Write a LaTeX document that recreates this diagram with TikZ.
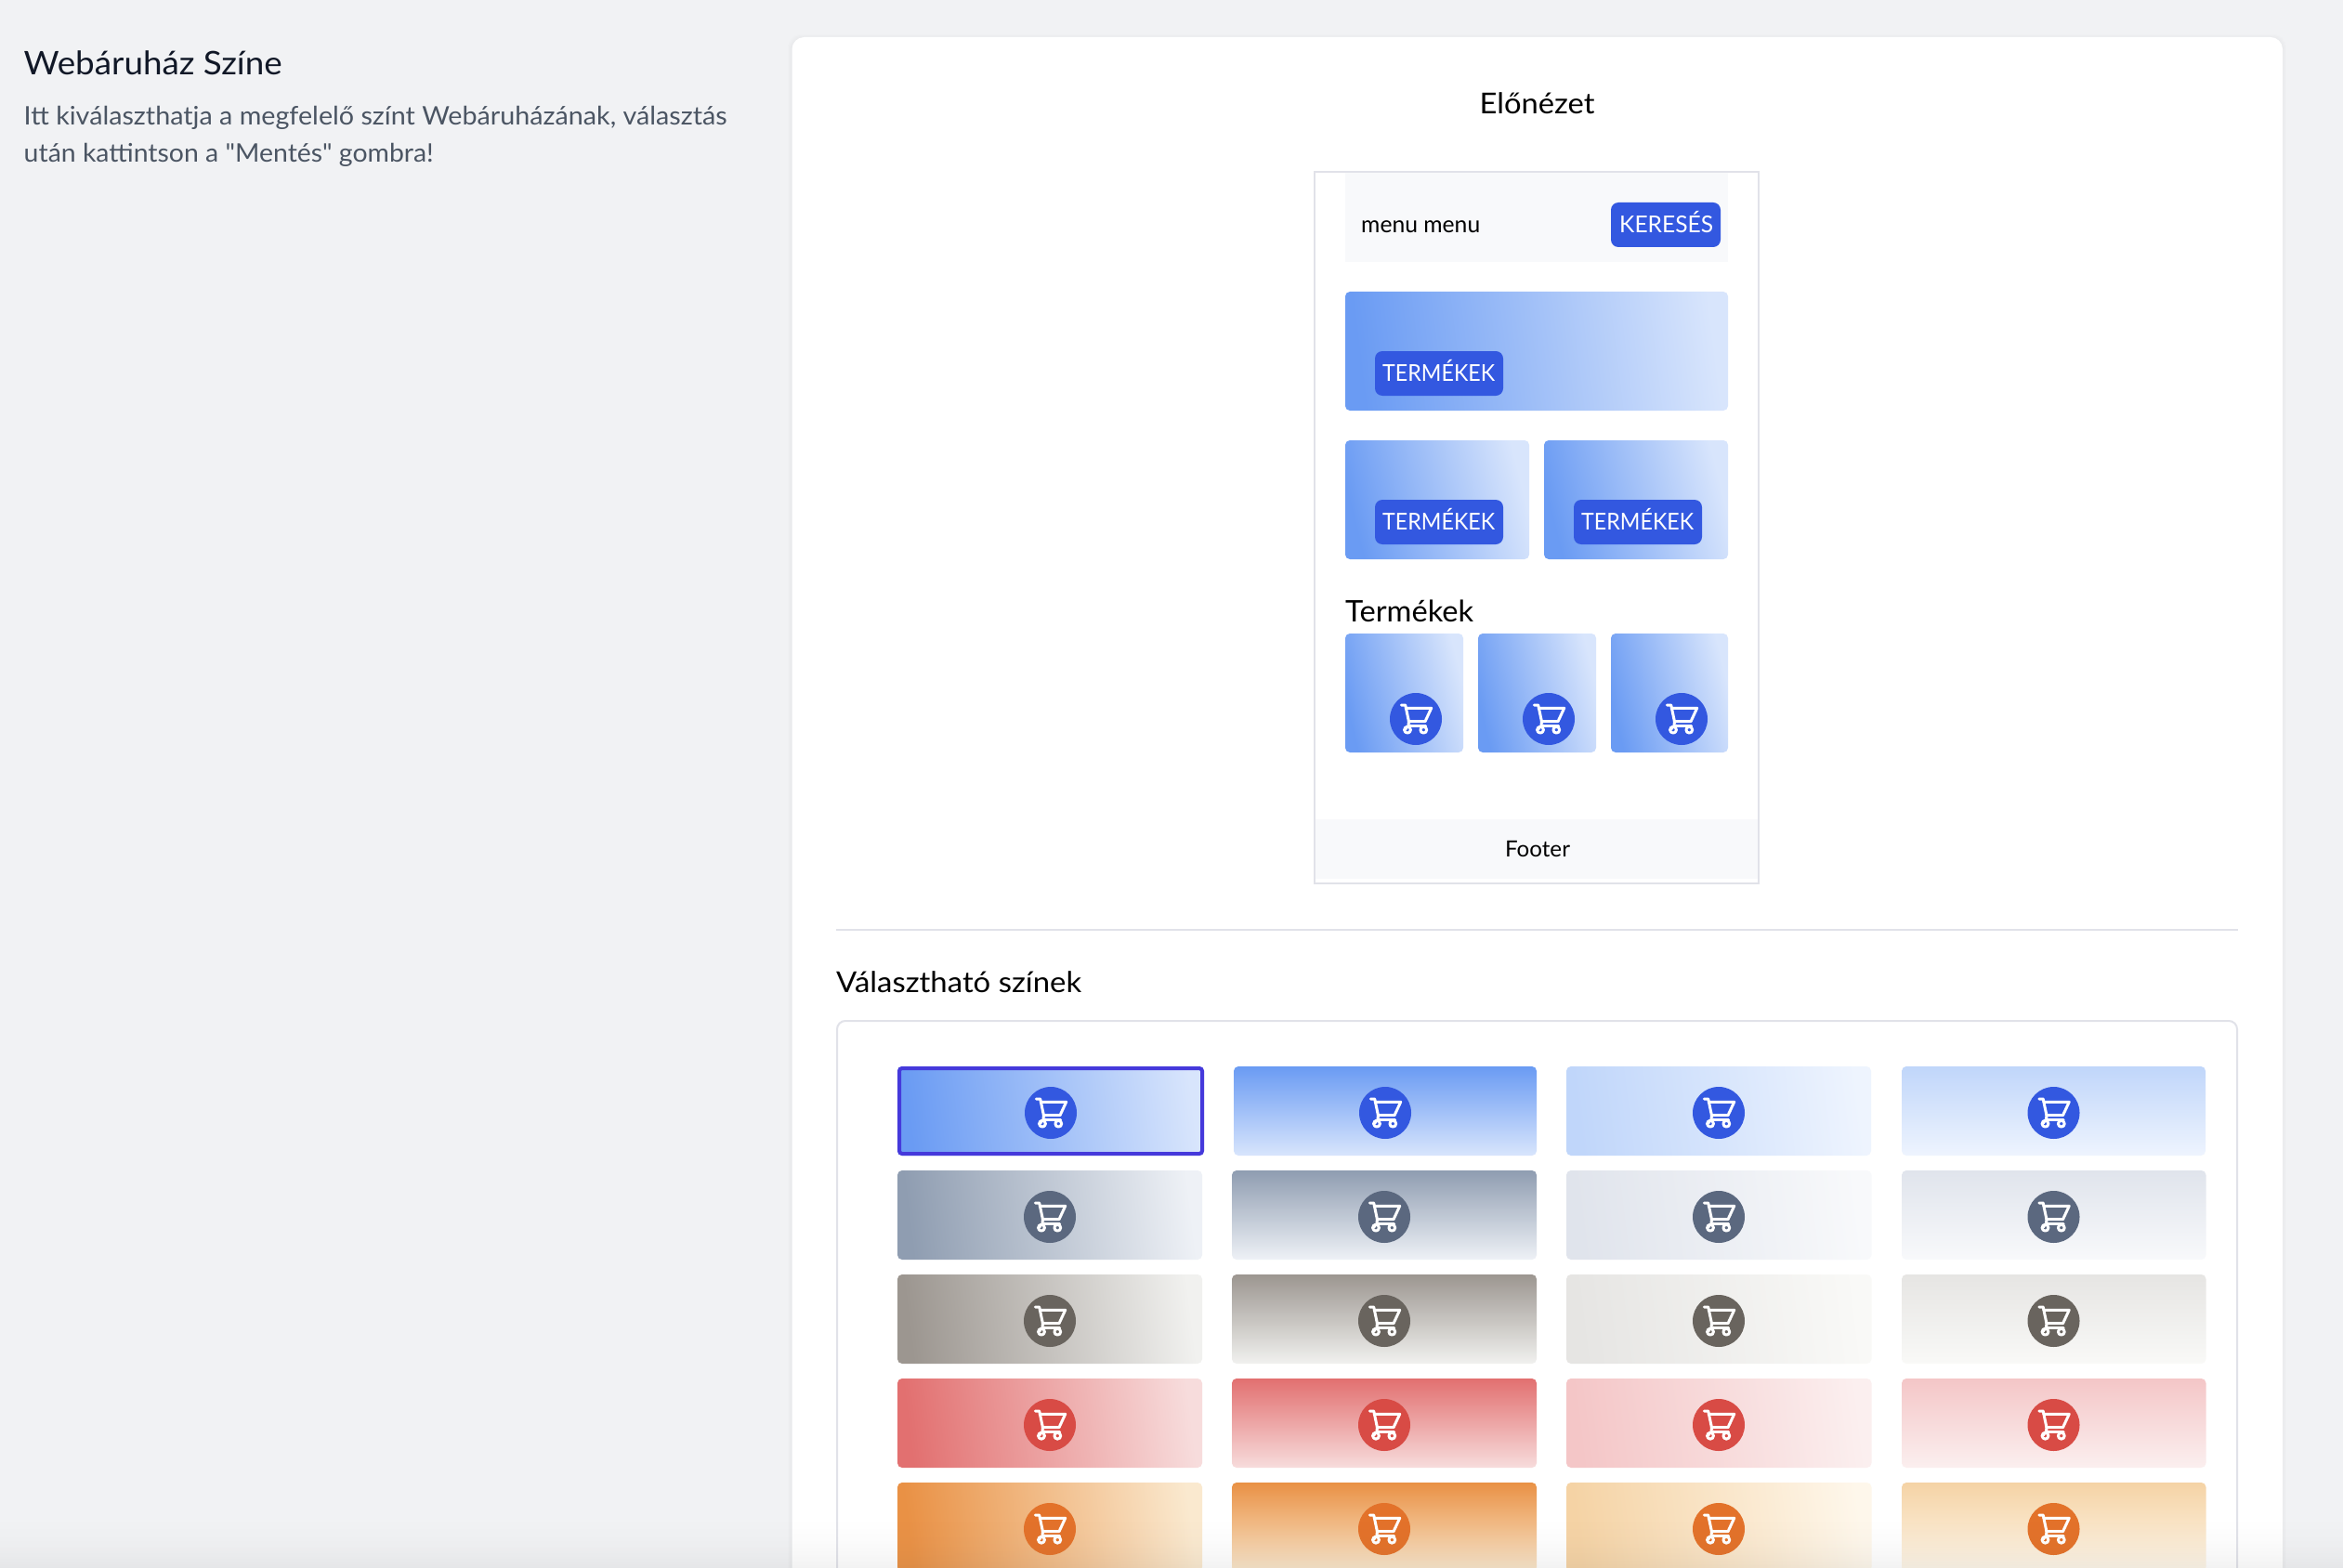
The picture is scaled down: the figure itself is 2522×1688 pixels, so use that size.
\documentclass[tikz,border=0pt]{standalone}
\usepackage{fontspec}
\usepackage{graphicx}
\setmainfont{Lato}
\newfontfamily\plainlato{Lato}
\definecolor{pagebg}{HTML}{F1F2F4}
\definecolor{rulec}{HTML}{E1E2E9}
\definecolor{softbg}{HTML}{F8F9FB}
\definecolor{btnblue}{HTML}{3358E0}
\definecolor{selc}{HTML}{4539DB}
\definecolor{titlec}{HTML}{111827}
\definecolor{parac}{HTML}{4B5563}
\definecolor{blA}{HTML}{6A9BF3}\definecolor{blB}{HTML}{D8E5FC}\definecolor{blC}{HTML}{C0D6FA}\definecolor{blD}{HTML}{EEF4FE}
\definecolor{grA}{HTML}{8F9DB1}\definecolor{grB}{HTML}{EEF1F6}\definecolor{grC}{HTML}{E0E4EC}\definecolor{grD}{HTML}{F8F9FB}\definecolor{grI}{HTML}{5B687F}
\definecolor{stA}{HTML}{9C9690}\definecolor{stB}{HTML}{F1F1EF}\definecolor{stC}{HTML}{E6E5E3}\definecolor{stD}{HTML}{F9F9F7}\definecolor{stI}{HTML}{69645E}
\definecolor{reA}{HTML}{E27070}\definecolor{reB}{HTML}{F7DCDC}\definecolor{reC}{HTML}{F4C6C7}\definecolor{reD}{HTML}{FBEFEF}\definecolor{reI}{HTML}{D84B45}
\definecolor{orA}{HTML}{E99145}\definecolor{orB}{HTML}{FAE9CF}\definecolor{orC}{HTML}{F5D3A5}\definecolor{orD}{HTML}{FEF7EB}\definecolor{orI}{HTML}{E3722A}
\newcommand{\fitw}[2]{\resizebox{#1pt}{\height}{#2}}
\tikzset{
  hgrad/.style 2 args={top color=#1,bottom color=#2,shading angle=97,rounded corners=5pt},
  vgrad/.style 2 args={top color=#1,bottom color=#2,shading angle=0,rounded corners=5pt},
  cardgrad/.style 2 args={top color=#1,bottom color=#2,shading angle=104,rounded corners=5pt},
  btnbox/.style={fill=btnblue,rounded corners=8pt},
  txt/.style={inner sep=0pt,anchor=base west},
  btntxt/.style={txt,white,font=\fontsize{25}{30}\selectfont},
  blk/.style={txt,black},
  roundbtn/.style={circle,minimum size=56pt,inner sep=0pt,draw=none},
  cartglyph/.pic={
    \begin{scope}[white,line width=3pt,line cap=round,line join=round]
      \draw (-15.7,-15) -- (-11.3,-15) -- (-7.5,3) -- (-8,6);
      \draw (-10.7,-11.7) -- (16.7,-11.7) -- (10,2.7) -- (-7.8,2.7);
      \draw (-5.5,7.2) -- (10.5,7.2);
      \draw (-5.5,7.2) .. controls (-9,7.2) and (-11,9) .. (-11,11);
      \draw (-9,11.7) circle (3.4);
      \draw (8.3,11.7) circle (3.4);
    \end{scope}
  }
}
% swatch row: y top, colour prefix, icon colour, name
\newcommand{\swrow}[4]{%
  \path[hgrad={#2A}{#2B}] (966,#1) rectangle (1294,#1+96);
  \path[vgrad={#2A}{#2B}] (1326,#1) rectangle (1654,#1+96);
  \path[hgrad={#2C}{#2D}] (1686,#1) rectangle (2014.5,#1+96);
  \path[vgrad={#2C}{#2D}] (2047,#1) rectangle (2374.5,#1+96);
  \node[roundbtn,fill=#3] (#4a) at (1130,#1+50) {};
  \node[roundbtn,fill=#3] (#4b) at (1490,#1+50) {};
  \node[roundbtn,fill=#3] (#4c) at (1850,#1+50) {};
  \node[roundbtn,fill=#3] (#4d) at (2210.5,#1+50) {};
  \pic at (#4a) {cartglyph};
  \pic at (#4b) {cartglyph};
  \pic at (#4c) {cartglyph};
  \pic at (#4d) {cartglyph};
}
\begin{document}
\begin{tikzpicture}[x=1pt,y=-1pt]
\useasboundingbox (0,0) rectangle (2522,1688);
\fill[pagebg] (0,0) rectangle (2522,1688);
% panel shadow
\foreach \e in {4,3,2,1}{
  \fill[black,opacity=.007,rounded corners=14pt] (852-\e,40-\e+1) rectangle (2457+\e,1720);
}
\fill[white,rounded corners=13pt] (852.5,40) rectangle (2457,1720);
% left text
\node[txt,text=titlec,font=\fontsize{35}{42}\selectfont] (title) at (25.5,81) {\fitw{278}{Webáruház Színe}};
\node[txt,text=parac,font=\fontsize{27.5}{33}\selectfont] (para1) at (25.5,135) {\fitw{757}{Itt kiválaszthatja a megfelelő színt Webáruházának, választás}};
\node[txt,text=parac,font=\fontsize{27.5}{33}\plainlato\selectfont] (para2) at (25.5,175) {\fitw{441}{után kattintson a "Mentés" gombra!}};
% preview
\node[inner sep=0pt,anchor=base,black,font=\fontsize{31}{37}\selectfont] (prev) at (1654.5,123) {\fitw{124}{Előnézet}};
\draw[rulec,line width=2pt] (1415,185) rectangle (1893,951);
\fill[softbg] (1448,186) rectangle (1860,282);
\node[blk,font=\fontsize{25}{30}\selectfont] (menu) at (1465,251) {\fitw{128}{menu menu}};
\path[btnbox] (1734,218) rectangle (1852,266);
\node[btntxt] (kereses) at (1743,250.5) {\fitw{101}{KERESÉS}};
\path[hgrad={blA}{blB}] (1448,314) rectangle (1860,442);
\path[btnbox] (1480,378) rectangle (1618,426);
\node[btntxt] (t1) at (1488,410) {\fitw{121}{TERMÉKEK}};
\path[cardgrad={blA}{blB}] (1448,474) rectangle (1646,602);
\path[btnbox] (1480,538) rectangle (1618,586);
\node[btntxt] (t2) at (1488,570) {\fitw{121}{TERMÉKEK}};
\path[cardgrad={blA}{blB}] (1662,474) rectangle (1860,602);
\path[btnbox] (1694,538) rectangle (1832,586);
\node[btntxt] (t3) at (1702,570) {\fitw{121}{TERMÉKEK}};
\node[blk,font=\fontsize{32}{38}\selectfont] (termekek) at (1448,669) {\fitw{138}{Termékek}};
\path[cardgrad={blA}{blB}] (1448,682) rectangle (1575,810);
\path[cardgrad={blA}{blB}] (1591,682) rectangle (1718,810);
\path[cardgrad={blA}{blB}] (1734,682) rectangle (1860,810);
\node[roundbtn,fill=btnblue] (pa) at (1524,774) {};
\node[roundbtn,fill=btnblue] (pb) at (1667,774) {};
\node[roundbtn,fill=btnblue] (pc) at (1810,774) {};
\pic at (pa) {cartglyph};
\pic at (pb) {cartglyph};
\pic at (pc) {cartglyph};
\fill[softbg] (1416,882) rectangle (1892,946);
\node[inner sep=0pt,anchor=base,black,font=\fontsize{24}{29}\selectfont] (footer) at (1655,922) {\fitw{70}{Footer}};
% separator
\coordinate (sepl) at (900,1001);
\coordinate (sepr) at (2409,1001);
\draw[rulec,line width=2pt] (sepl) -- (sepr);
% colours section
\node[blk,font=\fontsize{31}{37}\selectfont] (valaszthato) at (900,1068) {\fitw{264}{Választható színek}};
\draw[rulec,line width=2pt,rounded corners=9pt] (901,1720) -- (901,1099) -- (2408,1099) -- (2408,1720);
% first row
\path[hgrad={blA}{blB}] (966,1148) rectangle (1296,1244);
\draw[selc,line width=4pt,rounded corners=3pt] (968,1150) rectangle (1294,1242);
\path[vgrad={blA}{blB}] (1328,1148) rectangle (1654,1244);
\path[hgrad={blC}{blD}] (1686,1148) rectangle (2014,1244);
\path[vgrad={blC}{blD}] (2047,1148) rectangle (2374,1244);
\node[roundbtn,fill=btnblue] (ba) at (1131,1198) {};
\node[roundbtn,fill=btnblue] (bb) at (1491,1198) {};
\node[roundbtn,fill=btnblue] (bc) at (1850,1198) {};
\node[roundbtn,fill=btnblue] (bd) at (2210.5,1198) {};
\pic at (ba) {cartglyph};
\pic at (bb) {cartglyph};
\pic at (bc) {cartglyph};
\pic at (bd) {cartglyph};
\swrow{1260}{gr}{grI}{g}
\swrow{1372}{st}{stI}{s}
\swrow{1484}{re}{reI}{r}
\swrow{1596}{or}{orI}{o}
% bottom fade
\foreach \i in {0,...,57}{
  \pgfmathsetmacro{\al}{0.07*((\i+1)/58)^2}
  \fill[black!68,opacity=\al] (0,1630+\i) rectangle (2522,1631+\i);
}
\end{tikzpicture}
\end{document}
